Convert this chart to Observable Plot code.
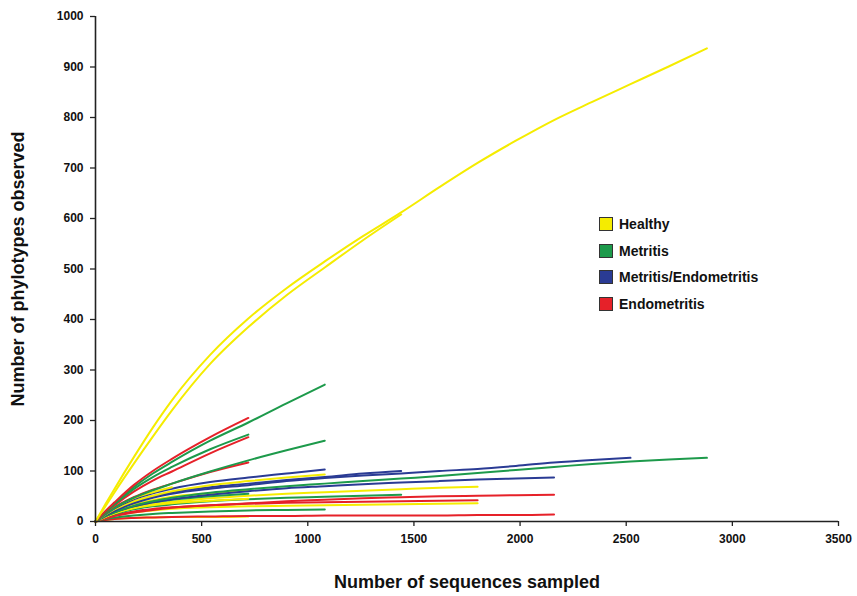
<!DOCTYPE html>
<html>
<head>
<meta charset="utf-8">
<script src="https://cdn.jsdelivr.net/npm/d3@7"></script>
<script src="https://cdn.jsdelivr.net/npm/@observablehq/plot@0.6"></script>
<style>
  html, body { margin: 0; padding: 0; background: #fff; }
  #wrap { position: relative; width: 857px; height: 596px; }
  #legend { position: absolute; left: 599px; top: 216px; font-family: "Liberation Sans", Arial, sans-serif; font-weight: bold; font-size: 14px; color: #111; }
  .item { position: absolute; left: 0; display: flex; align-items: center; white-space: nowrap; }
  .sw { width: 12px; height: 12px; border: 1.5px solid #333; margin-right: 6px; }
  svg g[aria-label="x-axis tick label"], svg g[aria-label="y-axis tick label"] { font-weight: bold; }
</style>
</head>
<body>
<div id="wrap"><div id="legend"></div></div>
<script>
// Sequencing depths at which each rarefaction curve was sampled
const depth = [0, 45, 90, 180, 270, 360, 540, 720, 900, 1080, 1260, 1440, 1620, 1800, 1980, 2160, 2340, 2520, 2700, 2880];

const groups = ["Healthy", "Metritis", "Metritis/Endometritis", "Endometritis"];
const colors = ["#f5ec00", "#1d9a4b", "#2a3b94", "#e62129"];

const xTicks = [0, 500, 1000, 1500, 2000, 2500, 3000, 3500];
const yTicks = [0, 100, 200, 300, 400, 500, 600, 700, 800, 900, 1000];

// Observed phylotypes per sample (values at the depths above)
const healthyA = [0, 33, 65, 127, 186, 240, 330, 402, 462, 515, 565, 612, 662, 710, 754, 795, 831, 866, 901, 937];
const healthyB = [0, 29, 58, 114, 168, 220, 312, 385, 448, 503, 557, 608];
const healthyC = [0, 15, 28, 46, 58, 68];
const healthyD = [0, 13, 24, 40, 51, 60, 72, 80, 87, 93];
const healthyE = [0, 11, 20, 33, 42, 49, 56, 62];
const healthyF = [0, 9, 16, 27, 34, 39, 46, 51, 55, 58, 61, 64, 67, 69];
const healthyG = [0, 9, 16, 26, 32, 36, 41, 45];
const healthyH = [0, 7, 12, 18, 22, 25, 28, 30, 31, 32, 33, 34, 35, 36];
const healthyI = [0, 3, 5, 7, 8, 9, 9, 10];

const metritisA = [0, 19, 36, 68, 95, 118, 160, 196, 234, 271];
const metritisB = [0, 18, 34, 64, 88, 108, 143, 172];
const metritisC = [0, 14, 27, 47, 62, 75, 99, 121, 141, 160];
const metritisD = [0, 10, 18, 31, 40, 47, 57, 64, 70, 75, 80, 85, 90, 96, 102, 108, 114, 119, 123, 126];
const metritisE = [0, 11, 19, 30, 38, 43, 50, 55];
const metritisF = [0, 9, 15, 24, 30, 34, 40, 44, 47, 49, 51, 53];
const metritisG = [0, 5, 8, 12, 15, 17, 20, 22, 23, 24];

const metEndoA = [0, 14, 26, 44, 56, 65, 78, 87, 95, 103];
const metEndoB = [0, 12, 22, 38, 50, 58, 68, 75, 82, 88, 95, 100];
const metEndoC = [0, 12, 21, 36, 47, 55, 65, 72, 80, 86, 91, 95, 100, 104, 110, 117, 122, 126];
const metEndoD = [0, 10, 18, 30, 38, 44, 53, 60, 66, 70, 74, 77, 80, 83, 85, 87];

const endoA = [0, 20, 38, 72, 100, 124, 167, 205];
const endoB = [0, 17, 32, 59, 81, 99, 135, 167];
const endoC = [0, 15, 28, 48, 63, 75, 98, 117];
const endoD = [0, 6, 11, 18, 23, 27, 32, 36, 40, 43, 46, 48, 50, 51, 52, 53];
const endoE = [0, 8, 13, 20, 25, 28, 32, 35, 37, 38, 39, 40, 41, 42];
const endoF = [0, 3, 5, 7, 8, 9, 10, 11, 11, 12, 12, 12, 12, 13, 13, 14];

const curves = [
  ["H-I", "Healthy", healthyI], ["E-F", "Endometritis", endoF], ["M-G", "Metritis", metritisG],
  ["H-H", "Healthy", healthyH], ["E-E", "Endometritis", endoE], ["E-D", "Endometritis", endoD],
  ["M-F", "Metritis", metritisF], ["H-G", "Healthy", healthyG], ["H-F", "Healthy", healthyF],
  ["M-E", "Metritis", metritisE], ["H-E", "Healthy", healthyE], ["ME-D", "Metritis/Endometritis", metEndoD],
  ["M-D", "Metritis", metritisD], ["ME-C", "Metritis/Endometritis", metEndoC], ["ME-B", "Metritis/Endometritis", metEndoB],
  ["H-D", "Healthy", healthyD], ["ME-A", "Metritis/Endometritis", metEndoA], ["H-C", "Healthy", healthyC],
  ["E-C", "Endometritis", endoC], ["M-C", "Metritis", metritisC], ["E-B", "Endometritis", endoB],
  ["M-B", "Metritis", metritisB], ["M-A", "Metritis", metritisA], ["E-A", "Endometritis", endoA],
  ["H-B", "Healthy", healthyB], ["H-A", "Healthy", healthyA]
];

const rows = curves.flatMap(([id, group, vals]) => vals.map((v, i) => ({id, group, x: depth[i], y: v})));

const font = "Liberation Sans, Arial, sans-serif";

const chart = Plot.plot({
  width: 857, height: 596,
  marginLeft: 95, marginRight: 19, marginTop: 16, marginBottom: 75,
  style: {fontFamily: font, background: "white", color: "#111"},
  x: {domain: [0, 3500]},
  y: {domain: [0, 1000]},
  color: {domain: groups, range: colors},
  marks: [
    Plot.line(rows, {x: "x", y: "y", z: "id", stroke: "group", strokeWidth: 2, curve: "monotone-x"}),
    Plot.axisX({ticks: xTicks, tickSize: 5, tickPadding: 8, tickFormat: d => String(d), fontSize: 12, fontWeight: "bold", label: null, stroke: "#222", strokeWidth: 1.3}),
    Plot.axisY({ticks: yTicks, tickSize: 5, tickPadding: 7, tickFormat: d => String(d), fontSize: 12, fontWeight: "bold", label: null, stroke: "#222", strokeWidth: 1.3}),
    Plot.ruleY([0], {stroke: "#222", strokeWidth: 1.6}),
    Plot.ruleX([0], {stroke: "#222", strokeWidth: 1.6}),
    Plot.text(["Number of sequences sampled"], {text: d => d, frameAnchor: "bottom", dy: 66, fontSize: 18, fontWeight: "bold", fill: "#111"}),
    Plot.text(["Number of phylotypes observed"], {text: d => d, frameAnchor: "left", textAnchor: "middle", dx: -77, rotate: -90, fontSize: 18, fontWeight: "bold", fill: "#111"})
  ]
});

document.getElementById("wrap").prepend(chart);

const legend = document.getElementById("legend");
groups.forEach((g, i) => {
  const item = document.createElement("div");
  item.className = "item";
  item.style.top = (i * 26.6) + "px";
  const sw = document.createElement("div");
  sw.className = "sw";
  sw.style.background = colors[i];
  const label = document.createElement("span");
  label.textContent = g;
  item.append(sw, label);
  legend.append(item);
});
</script>
</body>
</html>
